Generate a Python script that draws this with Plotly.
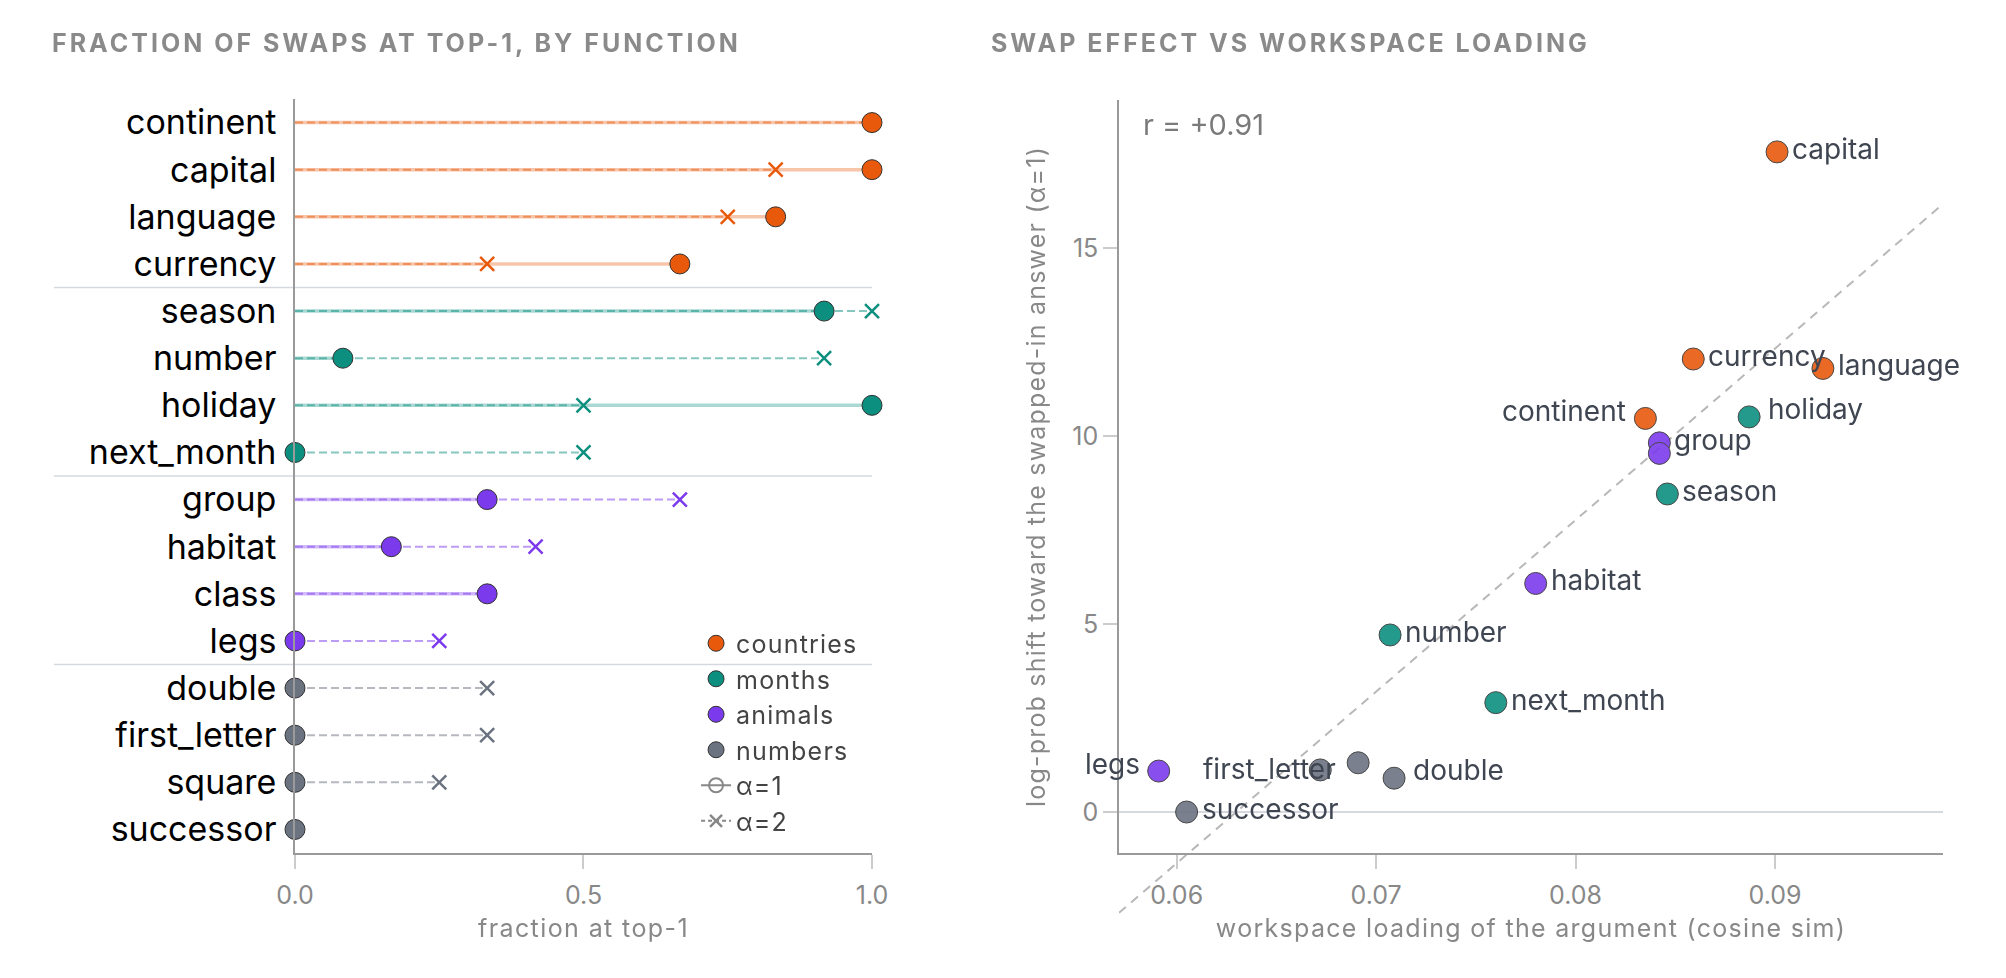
import numpy as np
import plotly.graph_objects as go

# --- data --------------------------------------------------------------
functions = ["continent", "capital", "language", "currency",
             "season", "number", "holiday", "next_month",
             "group", "habitat", "class", "legs",
             "double", "first_letter", "square", "successor"]
families = ["countries"] * 4 + ["months"] * 4 + ["animals"] * 4 + ["numbers"] * 4
family_names = ["countries", "months", "animals", "numbers"]

# fraction of swaps landing at top-1
top1_alpha1 = [1.0, 1.0, 0.833, 0.667,
               0.917, 0.083, 1.0, 0.0,
               0.333, 0.167, 0.333, 0.0,
               0.0, 0.0, 0.0, 0.0]
top1_alpha2 = [1.0, 0.833, 0.75, 0.333,
               1.0, 0.917, 0.5, 0.5,
               0.667, 0.417, 0.333, 0.25,
               0.333, 0.333, 0.25, 0.0]

# workspace loading vs log-prob shift (alpha=1)
loading = [0.0835, 0.0901, 0.0924, 0.0859,
           0.0846, 0.0707, 0.0887, 0.0760,
           0.0842, 0.0780, 0.0842, 0.0591,
           0.0709, 0.0691, 0.0672, 0.0605]
logprob_shift = [10.47, 17.56, 11.80, 12.05,
                 8.46, 4.71, 10.51, 2.91,
                 9.82, 6.08, 9.54, 1.09,
                 0.90, 1.31, 1.12, 0.0]

# --- styling ---------------------------------------------------------------
colors = {"countries": "#E8590C", "months": "#0C8F7F",
          "animals": "#7C3AED", "numbers": "#6B7280"}
rgb = {k: tuple(int(v[i:i + 2], 16) for i in (1, 3, 5)) for k, v in colors.items()}
FONT = "Inter, Roboto, sans-serif"
GREY = "#888888"
LABEL = "#3f4652"


def spaced(text, px):
    # plotly has no letter-spacing option, but passes span styles through
    return f'<span style="letter-spacing:{px}px">{text}</span>'


# label placement for the scatter: (xanchor, xshift, yshift); missing = no label
label_pos = {
    "capital": ("left", 13, 3), "currency": ("left", 13, 3), "language": ("left", 13, 3),
    "continent": ("right", -17, 7), "holiday": ("left", 17, 8), "group": ("left", 13, 3),
    "season": ("left", 13, 3), "habitat": ("left", 13, 3), "number": ("left", 13, 3),
    "next_month": ("left", 13, 3), "legs": ("right", -17, 7), "first_letter": ("right", -20, -6),
    "double": ("left", 17, 8), "successor": ("left", 13, 3),
}

fig = go.Figure()

# --- left panel: dumbbell of top-1 fractions --------------------------------
for fam in family_names:
    idx = [i for i, f in enumerate(families) if f == fam]
    r, g, b = rgb[fam]
    xs, ys = [], []
    for i in idx:
        xs += [0, top1_alpha1[i], None]
        ys += [functions[i], functions[i], None]
    fig.add_trace(go.Scatter(x=xs, y=ys, mode="lines", showlegend=False, hoverinfo="skip",
                             line=dict(color=f"rgba({r},{g},{b},0.35)", width=3.5),
                             xaxis="x", yaxis="y"))
    xs, ys = [], []
    for i in idx:
        xs += [0, top1_alpha2[i], None]
        ys += [functions[i], functions[i], None]
    fig.add_trace(go.Scatter(x=xs, y=ys, mode="lines", showlegend=False, hoverinfo="skip",
                             line=dict(color=f"rgba({r},{g},{b},0.5)", width=2, dash="8px,4px"),
                             xaxis="x", yaxis="y"))

for fam in family_names:
    idx = [i for i, f in enumerate(families) if f == fam]
    fig.add_trace(go.Scatter(
        x=[top1_alpha2[i] for i in idx], y=[functions[i] for i in idx],
        mode="markers", showlegend=False, cliponaxis=False,
        marker=dict(symbol="x-thin-open", size=14, color=colors[fam],
                    line=dict(width=2.5, color=colors[fam])),
        xaxis="x", yaxis="y"))

for fam in family_names:
    idx = [i for i, f in enumerate(families) if f == fam]
    fig.add_trace(go.Scatter(
        x=[top1_alpha1[i] for i in idx], y=[functions[i] for i in idx],
        mode="markers", name=spaced(fam, 1.2), cliponaxis=False,
        marker=dict(symbol="circle", size=20, color=colors[fam],
                    line=dict(width=1, color="#333333")),
        xaxis="x", yaxis="y"))

fig.add_trace(go.Scatter(x=[None], y=[None], mode="lines+markers", name=spaced("α=1", 1.2),
                         marker=dict(symbol="circle-open", size=14, color=GREY,
                                     line=dict(width=2, color=GREY)),
                         line=dict(color=GREY, width=2), xaxis="x", yaxis="y"))
fig.add_trace(go.Scatter(x=[None], y=[None], mode="lines+markers", name=spaced("α=2", 1.2),
                         marker=dict(symbol="x-thin-open", size=12, color=GREY,
                                     line=dict(width=2.5, color=GREY)),
                         line=dict(color=GREY, width=2, dash="4px,3px"), xaxis="x", yaxis="y"))

# family separators
for k in range(1, len(family_names)):
    fig.add_shape(type="line", xref="x domain", yref="y", x0=-0.418, x1=1,
                  y0=4 * k - 0.5, y1=4 * k - 0.5, line=dict(color="#d5d9df", width=1.5),
                  layer="below")

# --- right panel: scatter ---------------------------------------------------
for fam in family_names:
    idx = [i for i, f in enumerate(families) if f == fam]
    fig.add_trace(go.Scatter(
        x=[loading[i] for i in idx], y=[logprob_shift[i] for i in idx],
        mode="markers", showlegend=False, cliponaxis=False, opacity=0.9,
        text=[functions[i] for i in idx],
        marker=dict(symbol="circle", size=22, color=colors[fam],
                    line=dict(width=1, color="#333333")),
        xaxis="x2", yaxis="y2"))

for i, name in enumerate(functions):
    if name not in label_pos:
        continue
    anchor, dx, dy = label_pos[name]
    fig.add_annotation(x=loading[i], y=logprob_shift[i], xref="x2", yref="y2",
                       text=name, showarrow=False, xanchor=anchor, yanchor="middle",
                       xshift=dx, yshift=dy, font=dict(family=FONT, size=28, color=LABEL))

x2_range = [0.05711, 0.09842]
y2_range = [-1.09, 18.94]

# least-squares fit line, spanning the full x range
slope, intercept = np.polyfit(loading, logprob_shift, 1)
fit_y = [slope * x + intercept for x in x2_range]
fit_dom = [(v - y2_range[0]) / (y2_range[1] - y2_range[0]) for v in fit_y]
fig.add_shape(type="line", xref="x2", yref="y2 domain",
              x0=x2_range[0], x1=x2_range[1], y0=fit_dom[0], y1=fit_dom[1],
              line=dict(color="#b8b8b8", width=2, dash="9px,7px"), layer="below")

fig.add_annotation(x=0.027, y=0.968, xref="x2 domain", yref="y2 domain",
                   text="r = +0.91", showarrow=False, xanchor="left", yanchor="middle",
                   font=dict(family=FONT, size=29, color="#7a7a7a"))

# --- titles -------------------------------------------------------------------
title_style = dict(family=FONT, size=25, color="#8a8a8a", weight="bold")
fig.add_annotation(x=0.0209, y=0.9642, xref="paper", yref="paper", xanchor="left", yanchor="middle",
                   text=spaced("FRACTION OF SWAPS AT TOP-1, BY FUNCTION", 3),
                   showarrow=False, font=title_style)
fig.add_annotation(x=0.489, y=0.9642, xref="paper", yref="paper", xanchor="left", yanchor="middle",
                   text=spaced("SWAP EFFECT VS WORKSPACE LOADING", 3),
                   showarrow=False, font=title_style)

axis_line = dict(showline=True, linecolor="#9a9a9a", linewidth=1.5, showgrid=False,
                 zeroline=False, automargin=False)
tickfont = dict(family=FONT, size=25, color=GREY)
xtitle_font = dict(family=FONT, size=25, color=GREY)

fig.update_layout(
    width=2006, height=978,
    margin=dict(l=0, r=0, t=0, b=0, pad=0, autoexpand=False),
    paper_bgcolor="white", plot_bgcolor="white",
    font=dict(family=FONT, color="#444444"),
    xaxis=dict(domain=[0.14307, 0.43071], anchor="y", range=[0, 1],
               tickvals=[0, 0.5, 1.0], tickformat=".1f",
               ticks="outside", ticklen=14, tickcolor="#cccccc", tickwidth=1.5,
               ticklabelstandoff=5, tickfont=tickfont,
               title=dict(text=spaced("fraction at top-1", 1.4), standoff=11, font=xtitle_font),
               **axis_line),
    yaxis=dict(domain=[0.13599, 0.90695], anchor="x", type="category",
               categoryorder="array", categoryarray=functions,
               range=[len(functions) - 0.5, -0.5], ticks="", ticklabelstandoff=10,
               tickfont=dict(family=FONT, size=34, color="#000000"),
               **axis_line),
    xaxis2=dict(domain=[0.55384, 0.96461], anchor="y2", range=x2_range,
                tickvals=[0.06, 0.07, 0.08, 0.09], tickformat=".2f",
                ticks="outside", ticklen=14, tickcolor="#cccccc", tickwidth=1.5,
                ticklabelstandoff=5, tickfont=tickfont,
                title=dict(text=spaced("workspace loading of the argument (cosine sim)", 1.3),
                           standoff=11, font=xtitle_font),
                **axis_line),
    yaxis2=dict(domain=[0.13599, 0.90593], anchor="x2", range=y2_range,
                tickvals=[0, 5, 10, 15], ticks="outside", ticklen=14,
                tickcolor="#cccccc", tickwidth=1.5, tickfont=tickfont,
                title=dict(text=spaced("log-prob shift toward the swapped-in answer (α=1)", 1.2),
                           standoff=20, font=xtitle_font),
                showline=True, linecolor="#9a9a9a", linewidth=1.5, showgrid=False, automargin=False,
                zeroline=True, zerolinecolor="#d5d9df", zerolinewidth=1.5),
    legend=dict(x=0.343, y=0.3737, xanchor="left", yanchor="top",
                bgcolor="rgba(255,255,255,0)", font=dict(family=FONT, size=25, color="#444444"),
                itemsizing="trace", tracegroupgap=0),
    showlegend=True,
)

fig.write_html("out.html")
